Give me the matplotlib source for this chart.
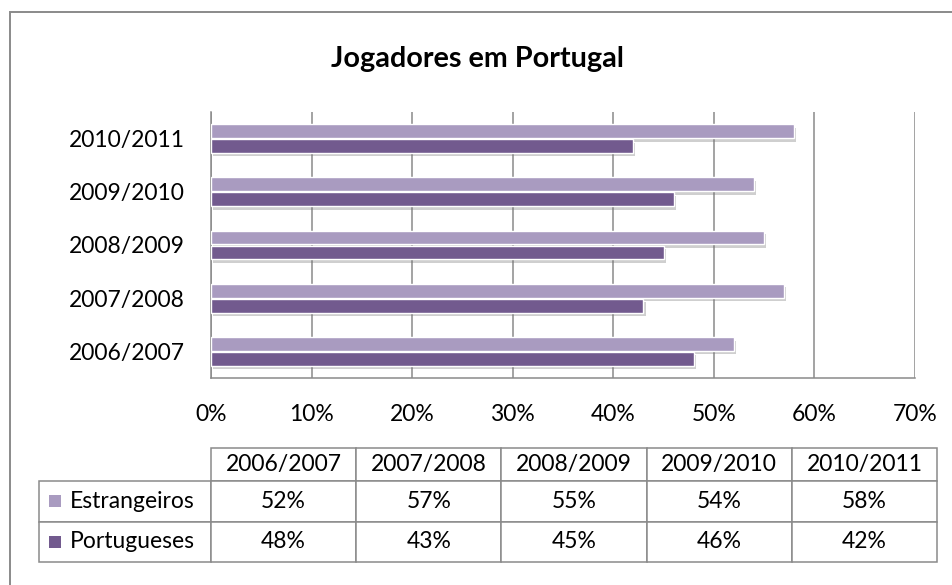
import matplotlib
matplotlib.use("Agg")
import matplotlib.pyplot as plt
import matplotlib.patheffects as pe
from matplotlib.patches import Rectangle
import numpy as np

plt.rcParams['font.family'] = ['Lato', 'DejaVu Sans']

# data
seasons = ['2006/2007', '2007/2008', '2008/2009', '2009/2010', '2010/2011']
estrangeiros = [52, 57, 55, 54, 58]
portugueses = [48, 43, 45, 46, 42]
series_names = ['Estrangeiros', 'Portugueses']
light_col = '#A99BC0'
dark_col = '#725A8E'
grey = '#8a8a8a'

fig = plt.figure(figsize=(9.52, 5.85), dpi=100)
ax = fig.add_axes([211/952, 1-378/585, 704/952, 266/585])

y = np.arange(len(seasons))
shadow = [pe.SimplePatchShadow(offset=(1.5, -2.5), shadow_rgbFace='#777777', alpha=0.35), pe.Normal()]
b1 = ax.barh(y + 0.14, estrangeiros, height=0.26, color=light_col, edgecolor='white', linewidth=1.0, zorder=3)
b2 = ax.barh(y - 0.14, portugueses, height=0.26, color=dark_col, edgecolor='white', linewidth=1.0, zorder=3)
for b in list(b1) + list(b2):
    b.set_path_effects(shadow)

ax.set_xlim(0, 70)
ax.set_ylim(-0.5, len(seasons) - 0.5)
ax.set_xticks(range(0, 71, 10))
ax.set_xticklabels([f'{v}%' for v in range(0, 71, 10)])
ax.set_yticks(y)
ax.set_yticklabels(seasons)
ax.tick_params(axis='both', length=0, labelsize=16.5)
ax.tick_params(axis='x', pad=19)
ax.tick_params(axis='y', pad=19)
ax.grid(axis='x', color=grey, linewidth=1.1, zorder=0)
ax.set_axisbelow(True)
for s in ['top', 'right']:
    ax.spines[s].set_visible(False)
for s in ['left', 'bottom']:
    ax.spines[s].set_color(grey)
    ax.spines[s].set_linewidth(1.1)

fig.text(477/952, 1-59/585, 'Jogadores em Portugal', ha='center', va='center',
         fontsize=20.7, fontweight='bold')

# data table under the chart (sizes in axes units so the bbox scale is 1)
col_w = 145.2 / 704
lab_w = 172 / 704
head_h = 33 / 266
row_h = 40.5 / 266
cell_text = [[f'{v}%' for v in estrangeiros], [f'{v}%' for v in portugueses]]
tbl = ax.table(cellText=cell_text, colLabels=seasons, cellLoc='center',
               bbox=[0, (378-562)/266, 5 * col_w, head_h + 2 * row_h])
for i, name in enumerate(series_names):
    tbl.add_cell(i + 1, -1, width=lab_w, height=row_h, text=name, loc='left')
tbl.auto_set_font_size(False)
tbl.set_fontsize(16.5)
for (r, c), cell in tbl.get_celld().items():
    cell.set_edgecolor(grey)
    cell.set_linewidth(1.1)
    cell.set_height(head_h if r == 0 else row_h)
    if c == -1:
        cell.set_width(lab_w)
        cell.PAD = 0.18
    else:
        cell.set_width(col_w)

# legend keys in the table
for i, col in enumerate([light_col, dark_col]):
    yc = (378 - (501 + 40.5 * i)) / 266
    ax.add_patch(Rectangle(((49-211)/704, yc - 6/266), 12/704, 12/266,
                           facecolor=col, edgecolor='none', transform=ax.transAxes,
                           clip_on=False, zorder=5))

# chart border
fig.patches.append(Rectangle((9.5/952, -0.1), 1.2, 1.1 - 12.5/585, transform=fig.transFigure,
                             fill=False, edgecolor=grey, linewidth=1.4))

fig.savefig('out.png', dpi=100)
